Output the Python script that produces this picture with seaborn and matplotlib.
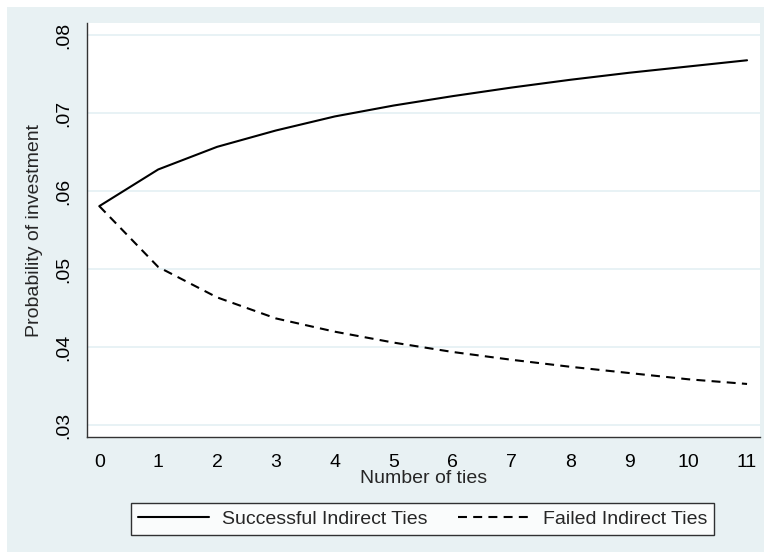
import numpy as np
import pandas as pd
import matplotlib
matplotlib.use("Agg")
import matplotlib.pyplot as plt
import seaborn as sns
from matplotlib.patches import Rectangle
from matplotlib.lines import Line2D

ties = list(range(12))
successful = [0.0581, 0.0628, 0.0657, 0.0678, 0.0696, 0.0710, 0.0722, 0.0733, 0.0743, 0.0752, 0.0760, 0.0768]
failed = [0.0581, 0.0503, 0.0464, 0.0437, 0.0420, 0.0406, 0.0394, 0.0384, 0.0375, 0.0367, 0.0359, 0.0353]
series_names = ["Successful Indirect Ties", "Failed Indirect Ties"]
yticks = [0.03, 0.04, 0.05, 0.06, 0.07, 0.08]
ytick_labels = [".03", ".04", ".05", ".06", ".07", ".08"]
xticks = list(range(12))

df = pd.DataFrame({
    "ties": ties * 2,
    "prob": successful + failed,
    "series": [series_names[0]] * len(ties) + [series_names[1]] * len(ties),
})

sns.set_style("white")
plt.rcParams["font.family"] = ["Liberation Sans", "DejaVu Sans"]

FS = 14
W, H = 764, 552
fig = plt.figure(figsize=(W / 100, H / 100), dpi=100, facecolor="white")
panel = "#E8F1F3"
fig.patches.append(Rectangle((7 / W, 0), 1 - 7 / W, 1 - 7 / H, transform=fig.transFigure,
                             facecolor=panel, edgecolor="none", zorder=-10))

ax = fig.add_axes([87.3 / W, (H - 437.3) / H, (760 - 87.3) / W, (437.3 - 23.3) / H])
ax.set_facecolor("white")

dash = (4.3, 3.0)
sns.lineplot(data=df, x="ties", y="prob", style="series", color="black",
             dashes={series_names[0]: "", series_names[1]: dash},
             linewidth=1.5, ax=ax, legend=False)

ax.set_xlim(-0.204, 11.22)
ax.set_ylim(0.02846, 0.08154)
ax.set_xticks(xticks)
ax.set_xticklabels([str(t) for t in xticks])
ax.set_yticks(yticks)
ax.set_yticklabels(ytick_labels, rotation=90, va="center")

ax.grid(axis="y", color="#E4F0F3", linewidth=1.2)
ax.set_axisbelow(True)
for s in ["top", "right"]:
    ax.spines[s].set_visible(False)
for s in ["left", "bottom"]:
    ax.spines[s].set_color("#333333")
    ax.spines[s].set_linewidth(1.0)

ax.tick_params(axis="both", direction="out", length=6, width=1.0, color="#333333",
               labelsize=FS, labelcolor="black")
ax.tick_params(axis="y", pad=5)
ax.tick_params(axis="x", pad=6)

ax.set_xlabel("Number of ties", fontsize=FS, labelpad=-1)
ax.set_ylabel("Probability of investment", fontsize=FS, labelpad=9)

handles = [Line2D([], [], color="black", lw=1.5),
           Line2D([], [], color="black", lw=1.5, linestyle=(0, dash))]
leg = fig.legend(handles, series_names, loc="center",
                 bbox_to_anchor=((127 + 718) / 2 / W, 1 - 519 / H),
                 ncol=2, fontsize=FS, frameon=True, fancybox=False,
                 handlelength=3.65, handletextpad=0.7, columnspacing=1.55,
                 borderpad=0.35)
leg.get_frame().set_edgecolor("black")
leg.get_frame().set_linewidth(1.0)
leg.get_frame().set_facecolor("white")

fig.savefig("out.png", dpi=100, facecolor="white")
